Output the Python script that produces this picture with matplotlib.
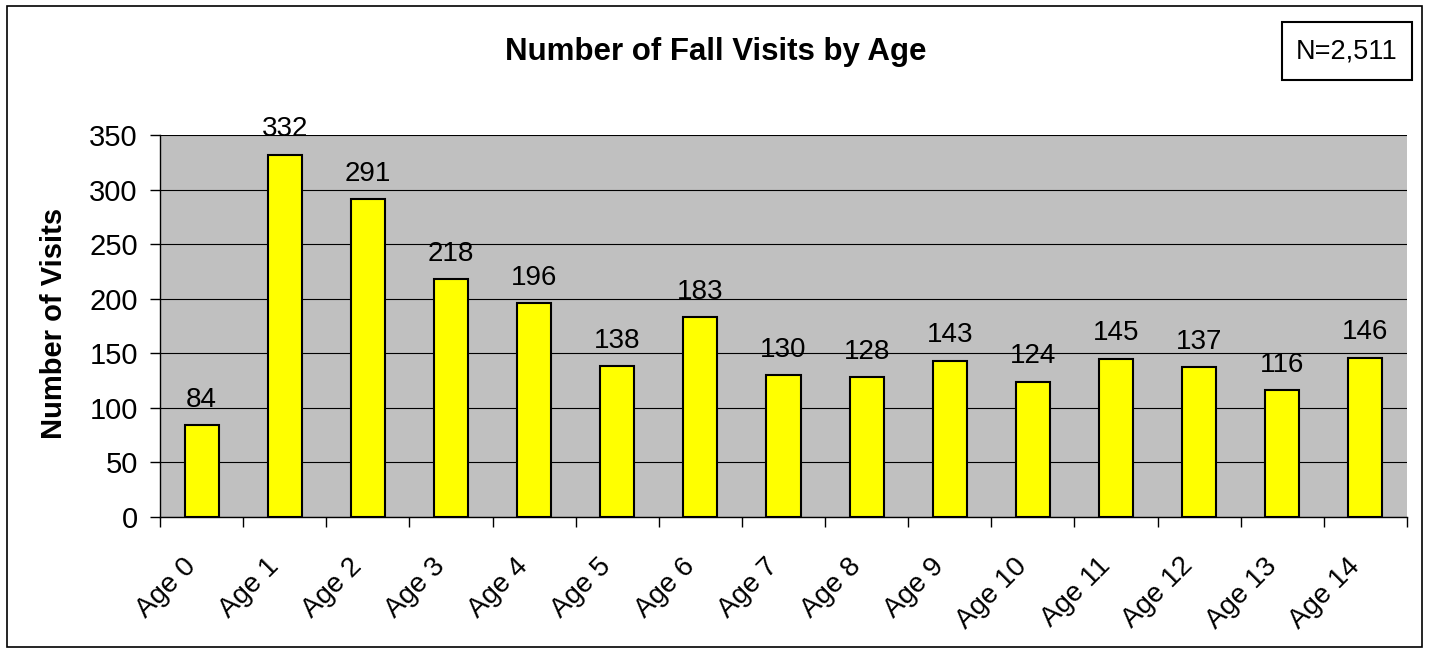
import numpy as np
import matplotlib.pyplot as plt
import matplotlib.transforms as mtrans
from matplotlib.patches import Rectangle

plt.rcParams['font.family'] = ['Liberation Sans', 'DejaVu Sans']

# data
ages = ["Age 0", "Age 1", "Age 2", "Age 3", "Age 4", "Age 5", "Age 6", "Age 7",
        "Age 8", "Age 9", "Age 10", "Age 11", "Age 12", "Age 13", "Age 14"]
visits = [84, 332, 291, 218, 196, 138, 183, 130, 128, 143, 124, 145, 137, 116, 146]
yticks = [0, 50, 100, 150, 200, 250, 300, 350]

W, H = 1430, 653
fig = plt.figure(figsize=(W/100, H/100), dpi=100)

# outer chart border
fig.patches.append(Rectangle((7/W, 6/H), (1422-7)/W, (647-6)/H, transform=fig.transFigure,
                             fill=False, edgecolor='black', linewidth=1.2))

ax = fig.add_axes([160/W, 1-517/H, (1407-160)/W, (517-135)/H])
ax.set_facecolor('#c0c0c0')

x = np.arange(len(ages))
ax.bar(x, visits, width=0.41, color='#ffff00', edgecolor='black', linewidth=1.5, zorder=3)
for xi, v in zip(x, visits):
    ax.text(xi, v + 17, str(v), ha='center', va='baseline', fontsize=20, zorder=4)

ax.set_xlim(-0.5, len(ages) - 0.5)
ax.set_ylim(0, 350)
ax.set_yticks(yticks)
ax.yaxis.grid(True, color='black', linewidth=0.8, zorder=1)
ax.tick_params(axis='y', labelsize=21, length=7, width=1, pad=9)

# ticks on category boundaries, rotated labels on the bar centres
ax.set_xticks(np.arange(-0.5, len(ages)))
ax.set_xticklabels([])
ax.tick_params(axis='x', length=7, width=1)
lab_tr = ax.get_xaxis_transform() + mtrans.ScaledTranslation(-7/72, -32.5/72, fig.dpi_scale_trans)
for xi, name in zip(x, ages):
    ax.text(xi, 0, name, transform=lab_tr, rotation=45, ha='right', va='center',
            rotation_mode='anchor', fontsize=20, clip_on=False)

for s in ['top', 'right']:
    ax.spines[s].set_visible(False)
ax.spines['left'].set_linewidth(1)
ax.spines['bottom'].set_linewidth(1)

fig.text(54/W, 1-323/H, "Number of Visits", rotation=90, ha='center', va='center',
         fontsize=21, fontweight='bold')
fig.text(716/W, 1-52/H, "Number of Fall Visits by Age", ha='center', va='center',
         fontsize=22.5, fontweight='bold')

# N box
fig.patches.append(Rectangle((1282/W, 1-80/H), (1412-1282)/W, (80-22)/H, transform=fig.transFigure,
                             facecolor='white', edgecolor='black', linewidth=1.5))
fig.text(1347/W, 1-51/H, "N=2,511", ha='center', va='center', fontsize=19.5)

plt.savefig('out.png', dpi=100)
